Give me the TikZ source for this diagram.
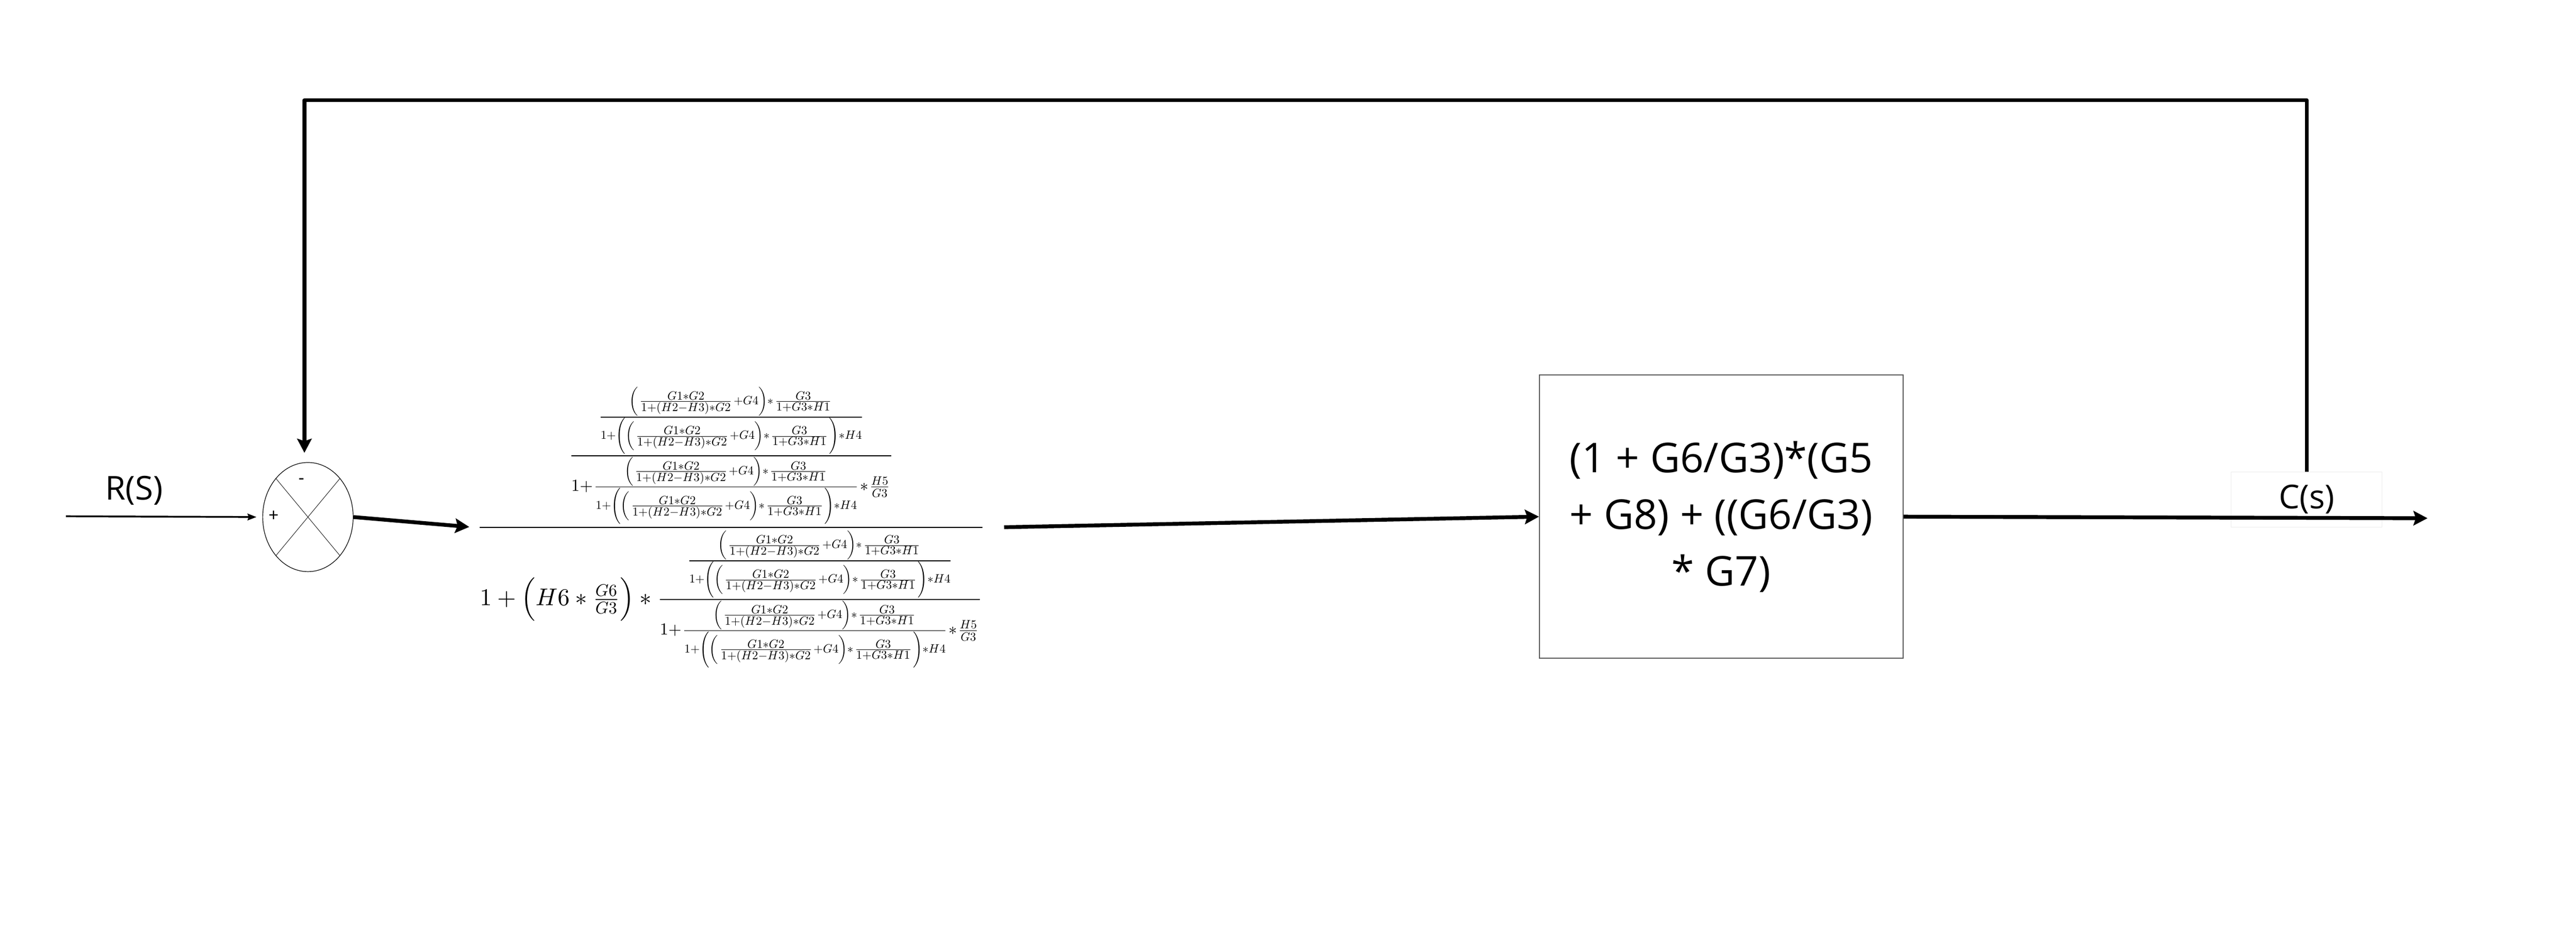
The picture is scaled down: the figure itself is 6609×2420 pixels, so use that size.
\documentclass[tikz,border=0pt]{standalone}
\usepackage{amsmath}
\usepackage{amssymb}
\usepackage{graphicx}
\usepackage[no-math]{fontspec}
\setmainfont{Open Sans}
\usepackage{tikz}
\usetikzlibrary{arrows.meta,shapes.geometric}

% scaled 10pt designs at every math size
\DeclareFontShape{OT1}{cmr}{m}{n}{<->cmr10}{}
\DeclareFontShape{OML}{cmm}{m}{it}{<->cmmi10}{}
\DeclareFontShape{OMS}{cmsy}{m}{n}{<->cmsy10}{}
\DeclareFontShape{OMX}{cmex}{m}{n}{<->cmex10}{}
\delimitershortfall=-0.5pt

\newcommand{\Gfwd}{\left(\frac{G1*G2}{1+(H2-H3)*G2}+G4\right)*\frac{G3}{1+G3*H1}}
\newcommand{\Gin}{\frac{\Gfwd}{1+\left(\Gfwd\right)*H4}}
\newcommand{\Gmid}{\frac{\Gin}{1+\Gin*\frac{H5}{G3}}}

\begin{document}
\begin{tikzpicture}[x=0.01cm,y=-0.01cm,
	wire/.style={line width=2.8pt,-{Stealth[length=0.36cm,width=0.37cm,inset=0.06cm]}},
	inwire/.style={line width=1.3pt,-{Stealth[length=0.23cm,width=0.17cm,inset=0.03cm]}},
	sumnode/.style={ellipse,draw,line width=0.45pt,minimum width=2.32cm,minimum height=2.8cm,inner sep=0pt},
	block/.style={draw=black!65,line width=0.8pt,minimum width=9.32cm,minimum height=7.27cm,align=center,font=\fontsize{30}{41.3}\selectfont},
	lbl/.style={inner sep=0pt,font=\fontsize{24}{29}\selectfont},
	sgn/.style={inner sep=0pt,font=\fontsize{13}{15}\selectfont}]
	\useasboundingbox (0,0) rectangle (6609,2420);
	
	\coordinate (in) at (169,1325);
	\coordinate (tap) at (5918,1330);
	\coordinate (fbr) at (5918,257);
	\coordinate (out) at (6228,1330);
	
	\node (sum) [sumnode] at (790,1327) {};
	\draw [line width=0.3pt] (sum.north west) -- (sum.south east);
	\draw [line width=0.3pt] (sum.north east) -- (sum.south west);
	\node (minus) [sgn] at (773,1235) {-};
	\node (plus) [sgn] at (702,1325) {+};
	\node (rs) [lbl,anchor=base] at (344,1283) {R(S)};
	
	\node (tf) [inner sep=0pt] at (1876,1354) {\resizebox{13.04cm}{!}{$\displaystyle\frac{\Gmid}{1+\bigl(H6*\frac{G6}{G3}\bigr)*\Gmid}$}};
	
	\node (blk) [block] at (4416,1326) {(1 + G6/G3)*(G5\\+ G8) + ((G6/G3)\\* G7)};
	
	% feedback loop first, the label box covers its lower end
	\draw [wire,line join=round,shorten >=0.24cm] (tap) -- (fbr) -| ([xshift=-0.09cm]sum.north);
	\node (cs) [lbl,fill=white,draw=black!8,line width=0.4pt,minimum width=3.87cm,minimum height=1.42cm] at (5918,1282) {C(s)};
	
	\draw [inwire,shorten >=0.15cm] (in) -- (sum.west);
	\draw [wire,shorten >=0.19cm] (sum.east) -- (tf.west);
	\draw [wire,shorten <=0.47cm] (tf.east) -- (blk.west);
	\draw [wire] (blk.east) -- (out);
	
\end{tikzpicture}
\end{document}
